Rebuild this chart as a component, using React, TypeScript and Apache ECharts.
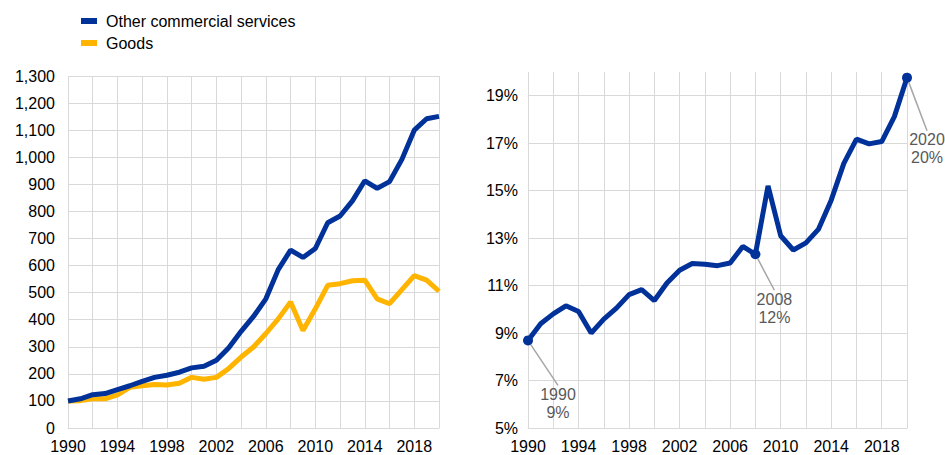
import React, { useEffect, useRef } from "react";
import * as echarts from "echarts";

const years = Array.from({ length: 31 }, (_, i) => String(1990 + i));
const otherServices = [100, 108, 123, 127, 142, 156, 172, 187, 195, 206, 222, 228, 250, 296, 357, 412, 477, 585, 657, 630, 663, 758, 783, 839, 913, 885, 910, 992, 1100, 1142, 1151];
const goods = [100, 101, 108, 108, 122, 150, 156, 161, 159, 165, 187, 180, 187, 220, 262, 299, 349, 403, 465, 360, 440, 527, 533, 544, 546, 477, 459, 511, 563, 546, 505];
const share = [8.69, 9.39, 9.81, 10.15, 9.91, 9.0, 9.59, 10.05, 10.62, 10.83, 10.37, 11.11, 11.65, 11.93, 11.9, 11.84, 11.95, 12.65, 12.32, 15.2, 13.1, 12.5, 12.8, 13.38, 14.6, 16.15, 17.17, 16.97, 17.07, 18.12, 19.76];
const annotated = [
  { index: 0, text: "1990\n9%", dx: 30, dy: 63 },
  { index: 18, text: "2008\n12%", dx: 19, dy: 54 },
  { index: 30, text: "2020\n20%", dx: 20, dy: 71 },
];

const BLUE = "#003299";
const YELLOW = "#FFB400";
const GRID = "#d9d9d9";
const FONT = "Liberation Sans, Arial, sans-serif";

export default function App() {
  const ref = useRef<HTMLDivElement>(null);
  useEffect(() => {
    if (!ref.current) return;
    const chart = echarts.init(ref.current, undefined, { renderer: "svg" });
    const xAxisBase = (gridIndex: number) => ({
      type: "category",
      gridIndex,
      data: years,
      boundaryGap: false,
      axisTick: { show: false },
      axisLine: { show: true, lineStyle: { color: GRID, width: 1 } },
      axisLabel: { interval: 3, color: "#000", fontSize: 16, fontFamily: FONT, margin: 10 },
      splitLine: { show: true, interval: 1, lineStyle: { color: GRID, width: 1 } },
    });
    const shareData = share.map((v, i) => {
      const a = annotated.find((x) => x.index === i);
      if (!a) return { value: v };
      return {
        value: v,
        symbol: "circle",
        symbolSize: 10,
        label: {
          show: true,
          position: "inside",
          formatter: a.text,
          color: "#595959",
          fontSize: 16,
          fontFamily: FONT,
          lineHeight: 18,
          align: "center",
        },
        labelLine: { show: true, lineStyle: { color: "#a6a6a6", width: 1.5 } },
      };
    });
    chart.setOption({
      animation: false,
      textStyle: { fontFamily: FONT },
      legend: {
        data: ["Other commercial services", "Goods"],
        orient: "vertical",
        left: 76,
        top: 8,
        itemWidth: 16,
        itemHeight: 6,
        itemGap: 6,
        icon: "rect",
        textStyle: { fontSize: 16, color: "#000", fontFamily: FONT, lineHeight: 16, padding: [0, 0, 0, 4] },
      },
      grid: [
        { left: 68, right: 506, top: 76, bottom: 27 },
        { left: 528, right: 38, top: 72, bottom: 27 },
      ],
      xAxis: [xAxisBase(0), xAxisBase(1)],
      yAxis: [
        {
          type: "value",
          gridIndex: 0,
          min: 0,
          max: 1300,
          interval: 100,
          axisLine: { show: false },
          axisTick: { show: false },
          axisLabel: {
            color: "#000",
            fontSize: 16,
            fontFamily: FONT,
            margin: 13,
            formatter: (v: number) => v.toLocaleString("en-US"),
          },
          splitLine: { lineStyle: { color: GRID, width: 1 } },
        },
        {
          type: "value",
          gridIndex: 1,
          min: 5,
          max: 20,
          interval: 2,
          axisLine: { show: false },
          axisTick: { show: false },
          axisLabel: {
            color: "#000",
            fontSize: 16,
            fontFamily: FONT,
            margin: 10,
            showMaxLabel: false,
            formatter: (v: number) => (v >= 20 ? "" : v + "%"),
          },
          splitLine: { showMaxLine: false, lineStyle: { color: GRID, width: 1 } },
        },
      ],
      series: [
        {
          name: "Other commercial services",
          type: "line",
          xAxisIndex: 0,
          yAxisIndex: 0,
          data: otherServices,
          showSymbol: false,
          symbol: "none",
          itemStyle: { color: BLUE },
          lineStyle: { color: BLUE, width: 5 },
          z: 3,
        },
        {
          name: "Goods",
          type: "line",
          xAxisIndex: 0,
          yAxisIndex: 0,
          data: goods,
          showSymbol: false,
          symbol: "none",
          itemStyle: { color: YELLOW },
          lineStyle: { color: YELLOW, width: 5 },
          z: 2,
        },
        {
          name: "Share",
          type: "line",
          xAxisIndex: 1,
          yAxisIndex: 1,
          data: shareData,
          symbol: "none",
          showAllSymbol: true,
          itemStyle: { color: BLUE },
          lineStyle: { color: BLUE, width: 5 },
          labelLayout: (params: any) => {
            const a = annotated.find((x) => x.index === params.dataIndex);
            return a ? { dx: a.dx, dy: a.dy } : {};
          },
        },
      ],
    });
    return () => chart.dispose();
  }, []);
  return (
    <div
      ref={ref}
      style={{ position: "absolute", left: 0, top: 0, width: 945, height: 455, background: "#fff" }}
    />
  );
}
